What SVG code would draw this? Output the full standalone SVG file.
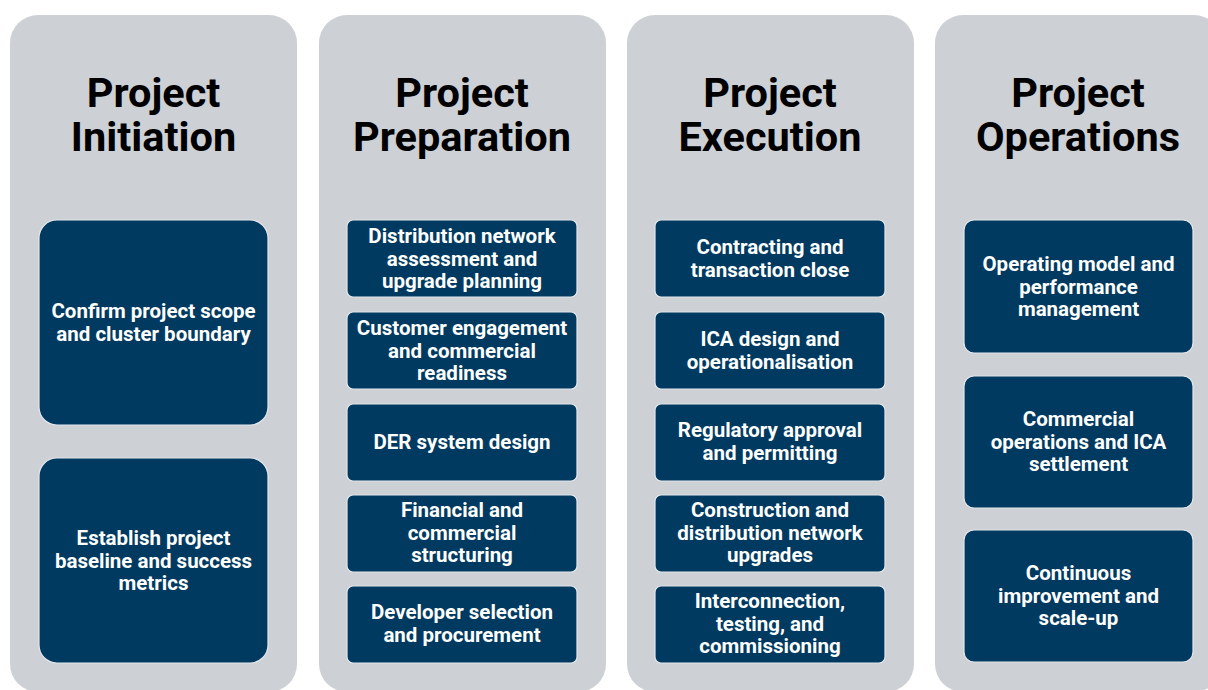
<svg xmlns="http://www.w3.org/2000/svg" width="1208" height="690" viewBox="0 0 1208 690">
  <style>
    .phase { fill: #cdd0d5; }
    .title { font-family: Roboto, "Liberation Sans", sans-serif; font-weight: 700; font-size: 41.5px; fill: #000; text-anchor: middle; }
    .box { fill: #003a60; stroke: #e3e7ec; stroke-width: 1.2; }
    .label { font-family: Roboto, "Liberation Sans", sans-serif; font-weight: 700; font-size: 20.5px; fill: #fff; text-anchor: middle; }
  </style>
  <rect width="1208" height="690" fill="#ffffff"/>

  <!-- Phase columns -->
  <g id="phase-initiation">
    <rect class="phase" x="10" y="15" width="287" height="677" rx="28"/>
    <text class="title" x="153.5" y="107">Project</text>
    <text class="title" x="153.5" y="151">Initiation</text>
  </g>
  <g id="phase-preparation">
    <rect class="phase" x="319" y="15" width="287" height="677" rx="28"/>
    <text class="title" x="462" y="107">Project</text>
    <text class="title" x="462" y="151">Preparation</text>
  </g>
  <g id="phase-execution">
    <rect class="phase" x="627" y="15" width="287" height="677" rx="28"/>
    <text class="title" x="770" y="107">Project</text>
    <text class="title" x="770" y="151">Execution</text>
  </g>
  <g id="phase-operations">
    <rect class="phase" x="935" y="15" width="287" height="677" rx="28"/>
    <text class="title" x="1078" y="107">Project</text>
    <text class="title" x="1078" y="151">Operations</text>
  </g>

  <!-- Initiation steps -->
  <g id="confirm-scope">
    <rect class="box" x="39" y="220" width="229" height="205" rx="18"/>
    <text class="label" x="153.5" y="318">Confirm project scope</text>
    <text class="label" x="153.5" y="341">and cluster boundary</text>
  </g>
  <g id="establish-baseline">
    <rect class="box" x="39" y="458" width="229" height="205" rx="18"/>
    <text class="label" x="153.5" y="545">Establish project</text>
    <text class="label" x="153.5" y="568">baseline and success</text>
    <text class="label" x="153.5" y="590">metrics</text>
  </g>

  <!-- Preparation steps -->
  <g id="network-assessment">
    <rect class="box" x="347" y="220" width="230" height="77" rx="6"/>
    <text class="label" x="462" y="243">Distribution network</text>
    <text class="label" x="462" y="266">assessment and</text>
    <text class="label" x="462" y="288">upgrade planning</text>
  </g>
  <g id="customer-engagement">
    <rect class="box" x="347" y="312" width="230" height="77" rx="6"/>
    <text class="label" x="462" y="335">Customer engagement</text>
    <text class="label" x="462" y="358">and commercial</text>
    <text class="label" x="462" y="380">readiness</text>
  </g>
  <g id="der-design">
    <rect class="box" x="347" y="404" width="230" height="77" rx="6"/>
    <text class="label" x="462" y="449">DER system design</text>
  </g>
  <g id="financial-structuring">
    <rect class="box" x="347" y="495" width="230" height="77" rx="6"/>
    <text class="label" x="462" y="517">Financial and</text>
    <text class="label" x="462" y="540">commercial</text>
    <text class="label" x="462" y="562">structuring</text>
  </g>
  <g id="developer-selection">
    <rect class="box" x="347" y="586" width="230" height="77" rx="6"/>
    <text class="label" x="462" y="619">Developer selection</text>
    <text class="label" x="462" y="642">and procurement</text>
  </g>

  <!-- Execution steps -->
  <g id="contracting">
    <rect class="box" x="655" y="220" width="230" height="77" rx="6"/>
    <text class="label" x="770" y="254">Contracting and</text>
    <text class="label" x="770" y="277">transaction close</text>
  </g>
  <g id="ica-design">
    <rect class="box" x="655" y="312" width="230" height="77" rx="6"/>
    <text class="label" x="770" y="346">ICA design and</text>
    <text class="label" x="770" y="369">operationalisation</text>
  </g>
  <g id="regulatory-approval">
    <rect class="box" x="655" y="404" width="230" height="77" rx="6"/>
    <text class="label" x="770" y="437">Regulatory approval</text>
    <text class="label" x="770" y="460">and permitting</text>
  </g>
  <g id="construction">
    <rect class="box" x="655" y="495" width="230" height="77" rx="6"/>
    <text class="label" x="770" y="517">Construction and</text>
    <text class="label" x="770" y="540">distribution network</text>
    <text class="label" x="770" y="562">upgrades</text>
  </g>
  <g id="interconnection">
    <rect class="box" x="655" y="586" width="230" height="77" rx="6"/>
    <text class="label" x="770" y="608">Interconnection,</text>
    <text class="label" x="770" y="631">testing, and</text>
    <text class="label" x="770" y="653">commissioning</text>
  </g>

  <!-- Operations steps -->
  <g id="operating-model">
    <rect class="box" x="964" y="220" width="229" height="133" rx="10"/>
    <text class="label" x="1078.5" y="271">Operating model and</text>
    <text class="label" x="1078.5" y="294">performance</text>
    <text class="label" x="1078.5" y="316">management</text>
  </g>
  <g id="commercial-operations">
    <rect class="box" x="964" y="376" width="229" height="132" rx="10"/>
    <text class="label" x="1078.5" y="426">Commercial</text>
    <text class="label" x="1078.5" y="449">operations and ICA</text>
    <text class="label" x="1078.5" y="471">settlement</text>
  </g>
  <g id="continuous-improvement">
    <rect class="box" x="964" y="530" width="229" height="132" rx="10"/>
    <text class="label" x="1078.5" y="580">Continuous</text>
    <text class="label" x="1078.5" y="603">improvement and</text>
    <text class="label" x="1078.5" y="625">scale-up</text>
  </g>

  <!-- No connectors between steps -->
  <g id="connectors"/>
</svg>
